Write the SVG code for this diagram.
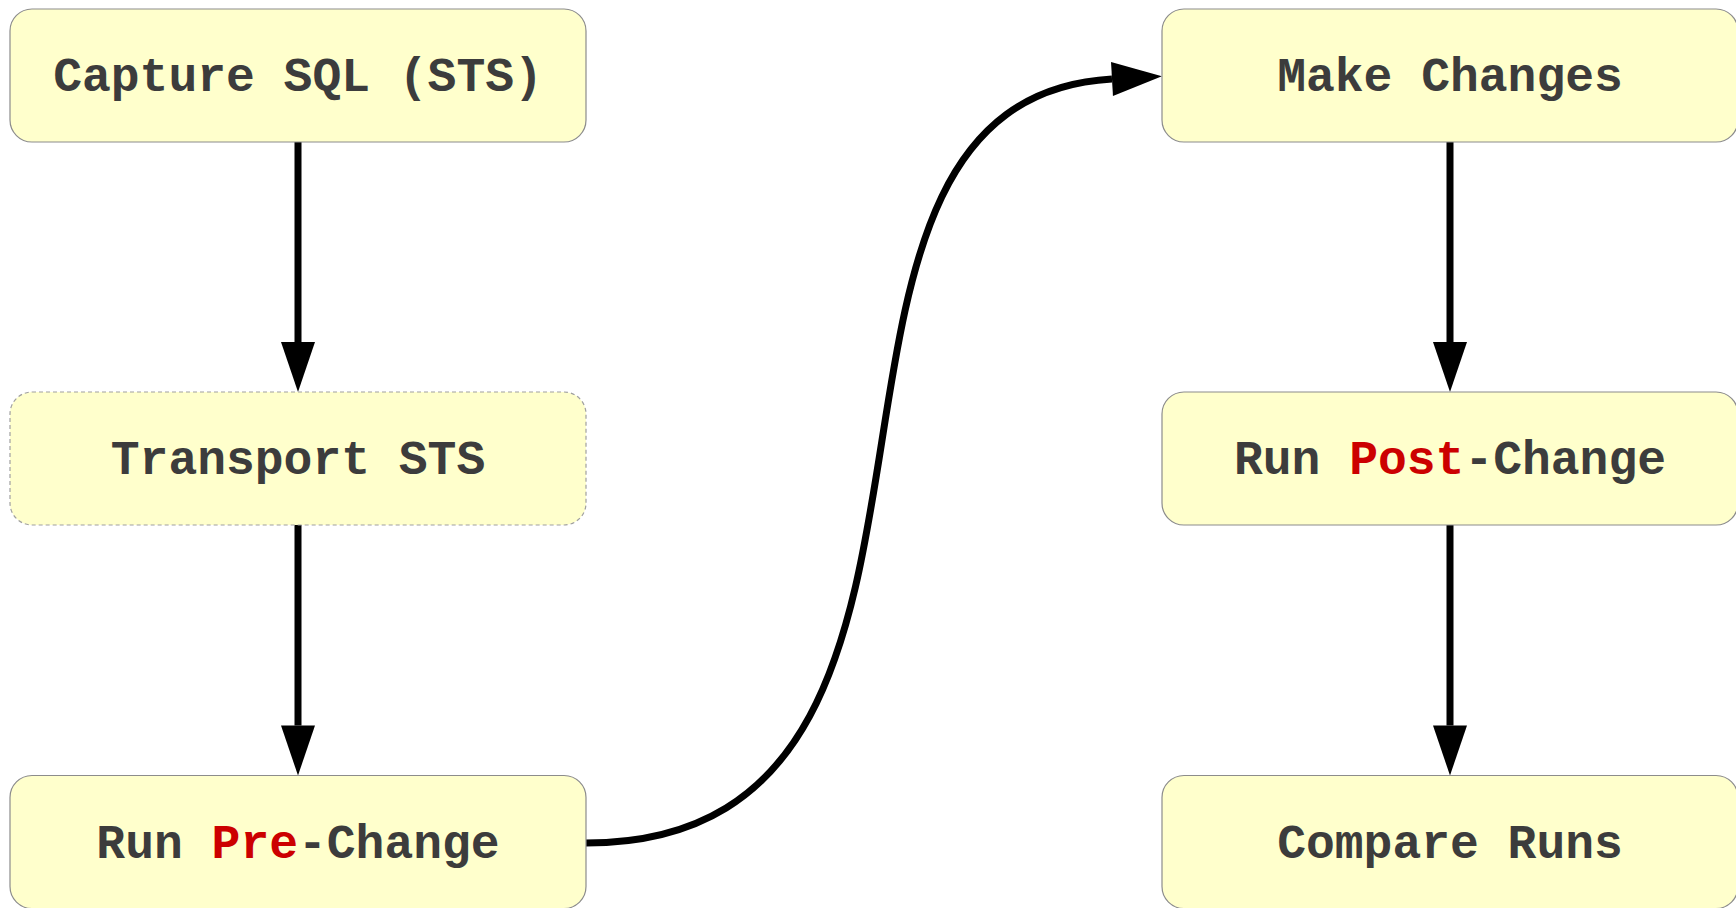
<svg xmlns="http://www.w3.org/2000/svg" width="1736" height="908" viewBox="0 0 1736 908">
<style>
.box{fill:#ffffcc;stroke:#8c8c8c;stroke-width:1.2}
.dash{stroke:#a0a0a0;stroke-dasharray:4 3}
.lbl{font-family:"Liberation Mono","Courier New",monospace;font-weight:bold;font-size:48px;fill:#3c3c3c;text-anchor:middle}
.red{fill:#cc0000}
.edge{fill:none;stroke:#000;stroke-width:7}
</style>
<defs>
<marker id="ah" markerUnits="userSpaceOnUse" markerWidth="52" markerHeight="36" refX="0" refY="17" orient="auto" viewBox="0 0 52 36" overflow="visible">
<path d="M0,0 L50,17 L0,34 z" fill="#000"/>
</marker>
</defs>
<rect width="1736" height="908" fill="#fff"/>
<g id="connectors">
<path class="edge" d="M298,142 L298,342" marker-end="url(#ah)"/>
<path class="edge" d="M298,525 L298,725.5" marker-end="url(#ah)"/>
<path class="edge" d="M586,843 C1030,843 744,100 1112,79" marker-end="url(#ah)"/>
<path class="edge" d="M1450,142 L1450,342" marker-end="url(#ah)"/>
<path class="edge" d="M1450,525 L1450,725.5" marker-end="url(#ah)"/>
</g>
<g id="capture">
<rect class="box" x="10" y="9" width="576" height="133" rx="22"/>
<text class="lbl" x="298" y="91">Capture SQL (STS)</text>
</g>
<g id="transport">
<rect class="box dash" x="10" y="392" width="576" height="133" rx="22"/>
<text class="lbl" x="298" y="474">Transport STS</text>
</g>
<g id="prechange">
<rect class="box" x="10" y="775.5" width="576" height="133" rx="22"/>
<text class="lbl" x="298" y="857.5">Run <tspan class="red">Pre</tspan>-Change</text>
</g>
<g id="makechanges">
<rect class="box" x="1162" y="9" width="576" height="133" rx="22"/>
<text class="lbl" x="1450" y="91">Make Changes</text>
</g>
<g id="postchange">
<rect class="box" x="1162" y="392" width="576" height="133" rx="22"/>
<text class="lbl" x="1450" y="474">Run <tspan class="red">Post</tspan>-Change</text>
</g>
<g id="compare">
<rect class="box" x="1162" y="775.5" width="576" height="133" rx="22"/>
<text class="lbl" x="1450" y="857.5">Compare Runs</text>
</g>
</svg>
